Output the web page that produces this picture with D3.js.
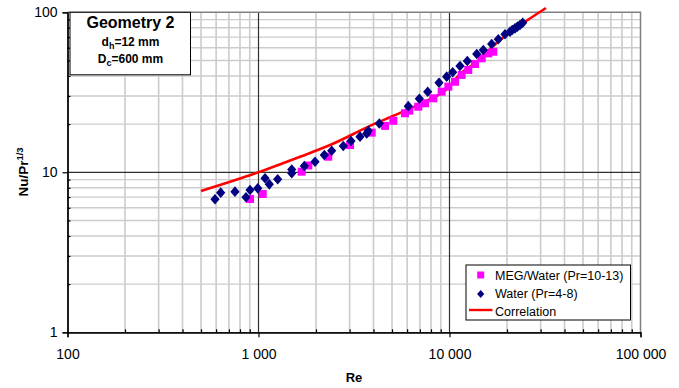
<!DOCTYPE html>
<html>
<head>
<meta charset="utf-8">
<script src="https://cdn.jsdelivr.net/npm/d3@7"></script>
<style>
  body { margin: 0; background: #fff; }
  svg { display: block; font-family: "Liberation Sans", Arial, sans-serif; }
</style>
</head>
<body>
<div id="chart"></div>
<script>
// MEG/Water measurements (Pr = 10-13)
let megRe = [903, 1052, 1683, 1823, 2319, 3014, 3914, 4596, 5080, 5848, 6160, 6865, 7447,
             8225, 9100, 9860, 10690, 11580, 12540, 13600, 14750, 15960, 16950];
let megNu = [6.81, 7.32, 10.09, 11.03, 12.52, 14.8, 17.7, 19.5, 21.0, 23.4, 24.3, 25.7, 27.0,
             29.0, 31.9, 34.3, 36.8, 40.6, 43.6, 47.5, 51.6, 55.4, 56.7];

// Water measurements (Pr = 4-8)
let waterRe = [592, 634, 753, 860, 903, 991, 1082, 1139, 1260, 1493, 1493, 1738, 1977, 2211,
               2417, 2780, 3050, 3400, 3687, 3756, 4291, 6085, 6950, 7690, 8810, 9665, 10390,
               11350, 12390, 13890, 15030, 16630, 18010, 19530, 20740, 21300, 22030, 22700,
               23390, 24160];
let waterNu = [6.78, 7.46, 7.57, 6.98, 7.75, 7.94, 9.17, 8.41, 9.04, 10.4, 9.86, 10.95, 11.65, 12.83,
               13.65, 14.6, 15.7, 16.7, 17.5, 18.2, 20.2, 25.9, 28.8, 31.9, 36.3, 39.6, 42.2,
               46.2, 49.6, 54.9, 58.1, 63.4, 67.8, 72.9, 75.6, 77.5, 79.4, 81.4,
               83.3, 86.1];

// Correlation curve
let corrRe = [500, 1000, 1650, 2370, 3910, 5510, 7900, 9500, 11350, 14000, 16290, 19530, 25450, 32000];
let corrNu = [7.64, 10.0, 12.5, 14.8, 19.7, 23.5, 28.7, 32.5, 41.1, 49.5, 59.0, 71.0, 88.9, 106.4];

let xMajor = [100, 1000, 10000, 100000];
let xTickLabels = ["100", "1 000", "10 000", "100 000"];
let yMajor = [1, 10, 100];
let yTickLabels = ["1", "10", "100"];

let W = 679, H = 388;
let pLeft = 67.5, pRight = 640.5, pTop = 12.3, pBottom = 332.3;

let svg = d3.select("#chart").append("svg")
    .attr("width", W)
    .attr("height", H);

let x = d3.scaleLog().domain([100, 100000]).range([pLeft, pRight]);
let y = d3.scaleLog().domain([1, 100]).range([pBottom, pTop]);

let xMinor = x.ticks().filter(d => xMajor.indexOf(d) < 0);
let yMinor = y.ticks().filter(d => yMajor.indexOf(d) < 0);

// minor grid
let grid = svg.append("g");
grid.selectAll("line.vx").data(xMinor).enter().append("line")
    .attr("x1", d => x(d)).attr("x2", d => x(d))
    .attr("y1", pTop).attr("y2", pBottom)
    .attr("stroke", "#cccccc").attr("stroke-width", 1.6);
grid.selectAll("line.hy").data(yMinor).enter().append("line")
    .attr("y1", d => y(d)).attr("y2", d => y(d))
    .attr("x1", pLeft).attr("x2", pRight)
    .attr("stroke", "#cccccc").attr("stroke-width", 1.4);

// major grid
grid.selectAll("line.mx").data([1000, 10000]).enter().append("line")
    .attr("x1", d => x(d)).attr("x2", d => x(d))
    .attr("y1", pTop).attr("y2", pBottom)
    .attr("stroke", "#303030").attr("stroke-width", 1.2);
grid.selectAll("line.my").data([10]).enter().append("line")
    .attr("y1", d => y(d)).attr("y2", d => y(d))
    .attr("x1", pLeft).attr("x2", pRight)
    .attr("stroke", "#303030").attr("stroke-width", 1.2);

// top and right frame
svg.append("path")
    .attr("d", "M" + pLeft + "," + pTop + " L" + pRight + "," + pTop + " L" + pRight + "," + pBottom)
    .attr("fill", "none").attr("stroke", "#808080").attr("stroke-width", 1.5);

// axes
svg.append("g").attr("transform", "translate(0," + pBottom + ")")
    .call(d3.axisBottom(x).tickValues(xMajor)
        .tickFormat((d, i) => xTickLabels[i]).tickSize(5).tickPadding(12));
svg.append("g").attr("transform", "translate(0," + pBottom + ")")
    .call(d3.axisBottom(x).tickValues(xMinor).tickFormat("").tickSize(-3).tickSizeOuter(0));

svg.append("g").attr("transform", "translate(" + pLeft + ",0)")
    .call(d3.axisLeft(y).tickValues(yMajor)
        .tickFormat((d, i) => yTickLabels[i]).tickSize(5).tickPadding(5));
svg.append("g").attr("transform", "translate(" + pLeft + ",0)")
    .call(d3.axisLeft(y).tickValues(yMinor).tickFormat("").tickSize(-3).tickSizeOuter(0));

svg.selectAll(".domain").attr("stroke", "#000").attr("stroke-width", 1.3);
svg.selectAll(".tick line").attr("stroke", "#000").attr("stroke-width", 1.2);
svg.selectAll(".tick text").attr("font-size", 14).attr("fill", "#000")
    .attr("font-family", "Liberation Sans, Arial, sans-serif");

// correlation line (not clipped, runs above the frame)
let line = d3.line()
    .x(d => x(d[0])).y(d => y(d[1]))
    .curve(d3.curveMonotoneX);
svg.append("path")
    .datum(corrRe.map((r, i) => [r, corrNu[i]]))
    .attr("d", line)
    .attr("fill", "none").attr("stroke", "#ff0000").attr("stroke-width", 2.6);

// MEG squares
svg.selectAll("rect.meg").data(megRe).enter().append("rect")
    .attr("x", d => x(d) - 4)
    .attr("y", (d, i) => y(megNu[i]) - 4)
    .attr("width", 8).attr("height", 8)
    .attr("fill", "#ff00ff");

// water diamonds
function diamond(cx, cy, w, h)
{
    return "M" + cx + "," + (cy - h) + " L" + (cx + w) + "," + cy +
           " L" + cx + "," + (cy + h) + " L" + (cx - w) + "," + cy + " Z";
}
svg.selectAll("path.water").data(waterRe).enter().append("path")
    .attr("d", (d, i) => diamond(x(d), y(waterNu[i]), 4.6, 5.3))
    .attr("fill", "#000080");

// annotation box
let note = svg.append("g");
note.append("rect")
    .attr("x", 70).attr("y", 12.3).attr("width", 120.5).attr("height", 62.5)
    .attr("fill", "#fff").attr("stroke", "#000").attr("stroke-width", 1);
note.append("text")
    .attr("x", 130.5).attr("y", 27.5).attr("text-anchor", "middle")
    .attr("font-size", 16).attr("font-weight", "bold")
    .text("Geometry 2");
let t1 = note.append("text")
    .attr("x", 130.5).attr("y", 45.5).attr("text-anchor", "middle")
    .attr("font-size", 12).attr("font-weight", "bold");
t1.append("tspan").text("d");
t1.append("tspan").attr("font-size", 9).attr("dy", 3).text("h");
t1.append("tspan").attr("dy", -3).text("=12 mm");
let t2 = note.append("text")
    .attr("x", 130.5).attr("y", 62.5).attr("text-anchor", "middle")
    .attr("font-size", 12).attr("font-weight", "bold");
t2.append("tspan").text("D");
t2.append("tspan").attr("font-size", 9).attr("dy", 3).text("c");
t2.append("tspan").attr("dy", -3).text("=600 mm");

// legend
let legend = svg.append("g");
legend.append("rect")
    .attr("x", 466).attr("y", 265).attr("width", 164.5).attr("height", 55)
    .attr("fill", "#fff").attr("stroke", "#000").attr("stroke-width", 1);
legend.append("rect")
    .attr("x", 477.2).attr("y", 271.5).attr("width", 7).attr("height", 7)
    .attr("fill", "#ff00ff");
legend.append("path")
    .attr("d", diamond(480.7, 294, 3.6, 4))
    .attr("fill", "#000080");
legend.append("line")
    .attr("x1", 469).attr("x2", 492.5).attr("y1", 310).attr("y2", 310)
    .attr("stroke", "#ff0000").attr("stroke-width", 2.4);
legend.selectAll("text").data(["MEG/Water (Pr=10-13)", "Water (Pr=4-8)", "Correlation"])
    .enter().append("text")
    .attr("x", 495)
    .attr("y", (d, i) => 279.5 + i * 18)
    .attr("font-size", 12.5)
    .text(d => d);

// axis titles
svg.append("text")
    .attr("x", 354).attr("y", 382).attr("text-anchor", "middle")
    .attr("font-size", 13).attr("font-weight", "bold")
    .text("Re");
let yt = svg.append("text")
    .attr("transform", "translate(28,172) rotate(-90)")
    .attr("text-anchor", "middle")
    .attr("font-size", 13.5).attr("font-weight", "bold");
yt.append("tspan").text("Nu/Pr");
yt.append("tspan").attr("font-size", 9.5).attr("dy", -5).text("1/3");
</script>
</body>
</html>
